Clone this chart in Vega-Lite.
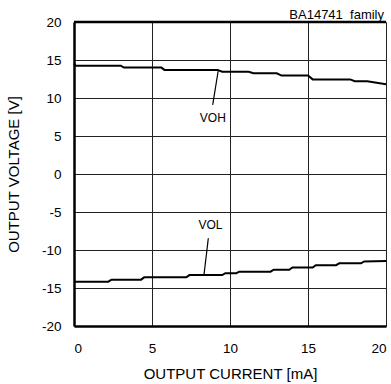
{
  "$schema": "https://vega.github.io/schema/vega-lite/v6.json",
  "autosize": "none",
  "width": 312,
  "height": 304,
  "padding": {"left": 74, "top": 22, "right": 5, "bottom": 58},
  "background": "white",
  "config": {
    "font": "Liberation Sans",
    "view": {"stroke": null},
    "axis": {"labelFont": "Liberation Sans", "titleFont": "Liberation Sans", "labelColor": "#000", "titleColor": "#000", "titleFontWeight": "normal", "labelFontSize": 13.5, "titleFontSize": 15}
  },
  "title": {"text": "BA14741\u00a0\u00a0family", "anchor": "end", "fontSize": 13, "fontWeight": "normal", "font": "Liberation Sans", "color": "#000", "dx": -6, "offset": -7},
  "datasets": {
    "curves": [
      {"series": "VOH", "i": 0, "current": 0, "voltage": 14.55},
      {"series": "VOH", "i": 1, "current": 0.1, "voltage": 14.25},
      {"series": "VOH", "i": 2, "current": 3.0, "voltage": 14.25},
      {"series": "VOH", "i": 3, "current": 3.2, "voltage": 14.0},
      {"series": "VOH", "i": 4, "current": 5.6, "voltage": 14.0},
      {"series": "VOH", "i": 5, "current": 5.8, "voltage": 13.7},
      {"series": "VOH", "i": 6, "current": 9.2, "voltage": 13.7},
      {"series": "VOH", "i": 7, "current": 9.5, "voltage": 13.45},
      {"series": "VOH", "i": 8, "current": 11.2, "voltage": 13.45},
      {"series": "VOH", "i": 9, "current": 11.5, "voltage": 13.25},
      {"series": "VOH", "i": 10, "current": 13.0, "voltage": 13.25},
      {"series": "VOH", "i": 11, "current": 13.3, "voltage": 12.95},
      {"series": "VOH", "i": 12, "current": 15.0, "voltage": 12.95},
      {"series": "VOH", "i": 13, "current": 15.3, "voltage": 12.45},
      {"series": "VOH", "i": 14, "current": 17.7, "voltage": 12.45},
      {"series": "VOH", "i": 15, "current": 18.0, "voltage": 12.2},
      {"series": "VOH", "i": 16, "current": 18.8, "voltage": 12.2},
      {"series": "VOH", "i": 17, "current": 20, "voltage": 11.8},
      {"series": "VOL", "i": 0, "current": 0, "voltage": -14.17},
      {"series": "VOL", "i": 1, "current": 2.2, "voltage": -14.17},
      {"series": "VOL", "i": 2, "current": 2.4, "voltage": -13.9},
      {"series": "VOL", "i": 3, "current": 4.3, "voltage": -13.9},
      {"series": "VOL", "i": 4, "current": 4.5, "voltage": -13.6},
      {"series": "VOL", "i": 5, "current": 7.2, "voltage": -13.6},
      {"series": "VOL", "i": 6, "current": 7.4, "voltage": -13.3},
      {"series": "VOL", "i": 7, "current": 9.5, "voltage": -13.3},
      {"series": "VOL", "i": 8, "current": 9.7, "voltage": -13.05},
      {"series": "VOL", "i": 9, "current": 10.4, "voltage": -13.05},
      {"series": "VOL", "i": 10, "current": 10.6, "voltage": -12.85},
      {"series": "VOL", "i": 11, "current": 12.6, "voltage": -12.85},
      {"series": "VOL", "i": 12, "current": 12.8, "voltage": -12.6},
      {"series": "VOL", "i": 13, "current": 13.8, "voltage": -12.6},
      {"series": "VOL", "i": 14, "current": 14.0, "voltage": -12.3},
      {"series": "VOL", "i": 15, "current": 15.3, "voltage": -12.3},
      {"series": "VOL", "i": 16, "current": 15.5, "voltage": -12.0},
      {"series": "VOL", "i": 17, "current": 16.8, "voltage": -12.0},
      {"series": "VOL", "i": 18, "current": 17.0, "voltage": -11.75},
      {"series": "VOL", "i": 19, "current": 18.4, "voltage": -11.75},
      {"series": "VOL", "i": 20, "current": 18.6, "voltage": -11.5},
      {"series": "VOL", "i": 21, "current": 20, "voltage": -11.45}
    ],
    "leaders": [
      {"series": "VOH", "i": 0, "current": 8.89, "voltage": 9.1},
      {"series": "VOH", "i": 1, "current": 9.25, "voltage": 13.65},
      {"series": "VOL", "i": 0, "current": 8.61, "voltage": -8.45},
      {"series": "VOL", "i": 1, "current": 8.33, "voltage": -13.3}
    ],
    "labels": [
      {"label": "VOH", "current": 8.9, "voltage": 7.4},
      {"label": "VOL", "current": 8.75, "voltage": -6.7}
    ],
    "top": [{"current": 0, "voltage": 20}]
  },
  "layer": [
    {
      "data": {"name": "curves"},
      "mark": {"type": "line", "color": "#000", "strokeWidth": 2},
      "encoding": {
        "x": {"field": "current", "type": "quantitative", "scale": {"domain": [0, 20], "nice": false}, "axis": {"title": "OUTPUT CURRENT [mA]", "values": [0, 5, 10, 15, 20], "tickCount": 5, "labelOverlap": false, "grid": true, "gridColor": "#222", "gridWidth": 1, "gridOpacity": 1, "ticks": false, "domainColor": "#000", "domainWidth": 2.5, "labelPadding": 15, "titlePadding": 12}},
        "y": {"field": "voltage", "type": "quantitative", "scale": {"domain": [-20, 20], "nice": false}, "axis": {"title": "OUTPUT VOLTAGE [V]", "values": [-20, -15, -10, -5, 0, 5, 10, 15, 20], "tickCount": 9, "labelOverlap": false, "labelExpr": "'' + datum.value", "grid": true, "gridColor": "#222", "gridWidth": 1, "gridOpacity": 1, "ticks": false, "domainColor": "#000", "domainWidth": 2.5, "labelPadding": 13, "titlePadding": 20}},
        "detail": {"field": "series"},
        "order": {"field": "i"}
      }
    },
    {
      "data": {"name": "leaders"},
      "mark": {"type": "line", "color": "#000", "strokeWidth": 1.2},
      "encoding": {
        "x": {"field": "current", "type": "quantitative"},
        "y": {"field": "voltage", "type": "quantitative"},
        "detail": {"field": "series"},
        "order": {"field": "i"}
      }
    },
    {
      "data": {"name": "labels"},
      "mark": {"type": "text", "font": "Liberation Sans", "fontSize": 12, "color": "#000"},
      "encoding": {
        "x": {"field": "current", "type": "quantitative"},
        "y": {"field": "voltage", "type": "quantitative"},
        "text": {"field": "label"}
      }
    },
    {
      "data": {"name": "top"},
      "mark": {"type": "rule", "color": "#000", "strokeWidth": 2.5},
      "encoding": {
        "y": {"field": "voltage", "type": "quantitative"}
      }
    }
  ]
}
